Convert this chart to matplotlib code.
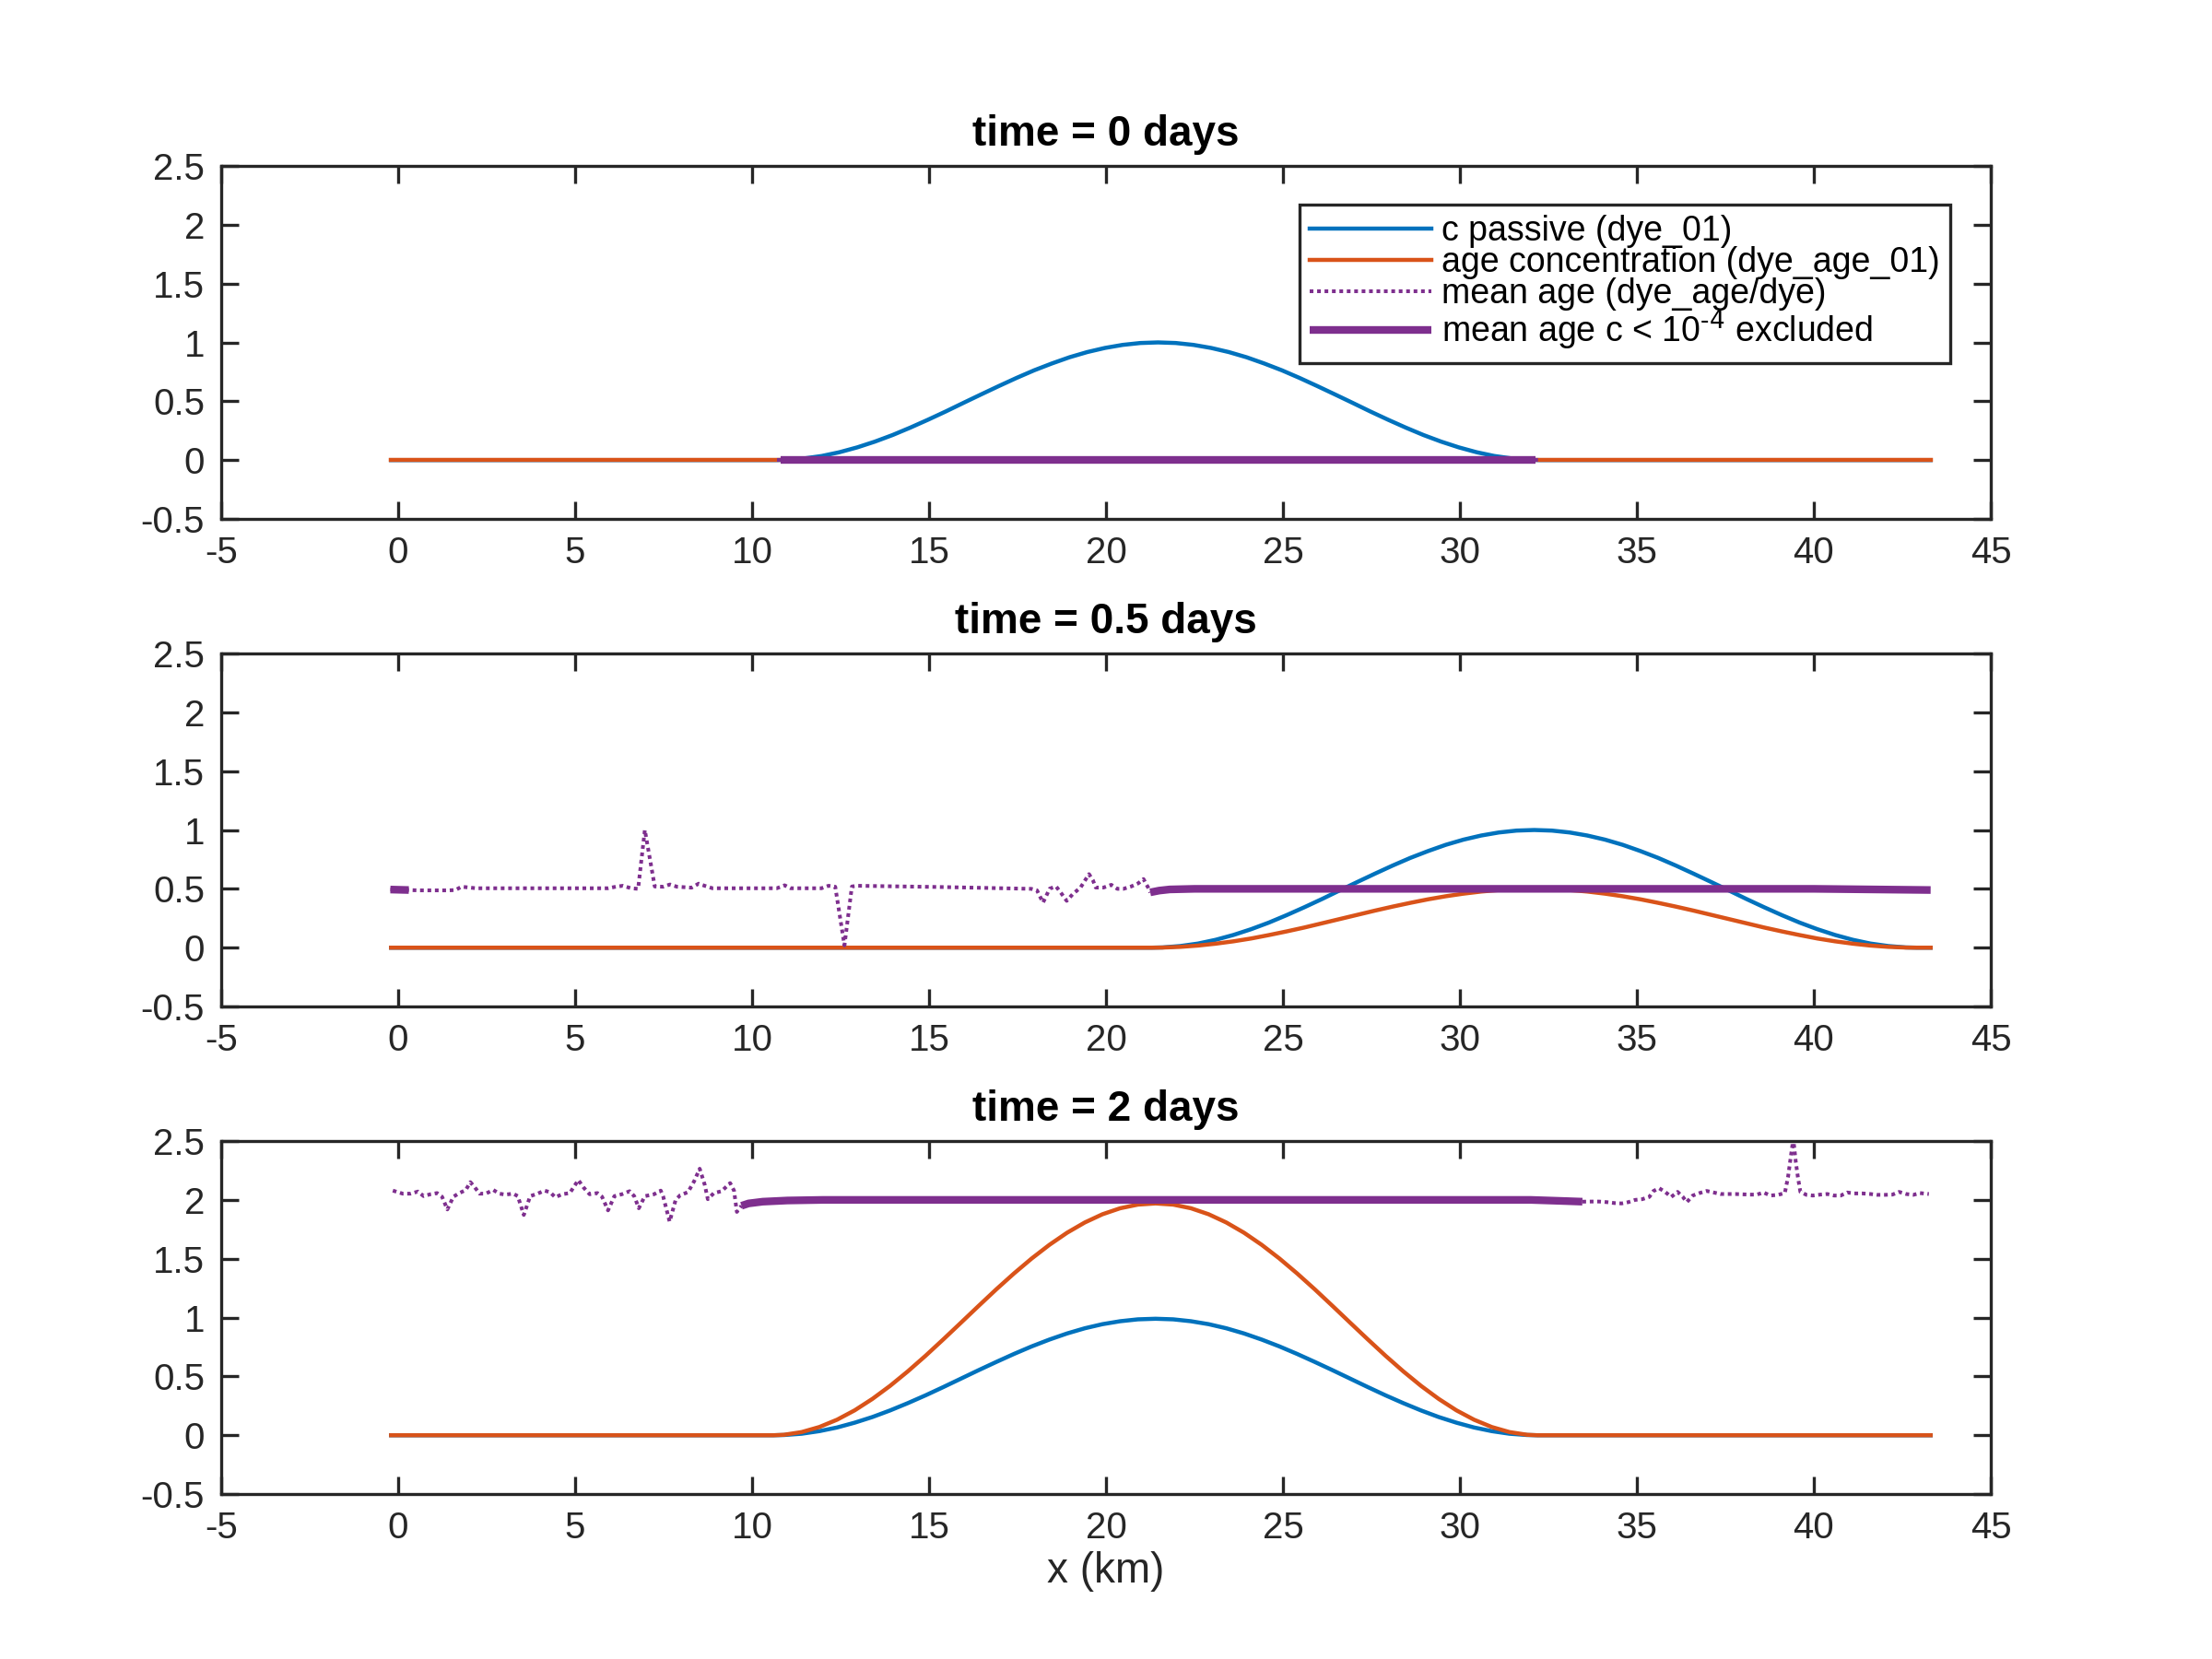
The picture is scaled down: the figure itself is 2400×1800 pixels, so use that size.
import matplotlib
matplotlib.use("Agg")
import matplotlib.pyplot as plt
import numpy as np

plt.rcParams['font.family'] = ['Liberation Sans', 'DejaVu Sans']
plt.rcParams['mathtext.default'] = 'regular'

# colours (MATLAB default order)
BLUE = '#0072BD'
ORANGE = '#D95319'
PURPLE = '#7E2F8E'
AXC = '#262626'

titles = ['time = 0 days', 'time = 0.5 days', 'time = 2 days']
labels = ['c passive (dye_01)', 'age concentration (dye_age_01)',
          'mean age (dye_age/dye)', 'mean age c < 10$^{\\text{-4}}$ excluded']
xticks = [-5, 0, 5, 10, 15, 20, 25, 30, 35, 40, 45]
xticklabels = ['-5', '0', '5', '10', '15', '20', '25', '30', '35', '40', '45']
yticks = [-0.5, 0, 0.5, 1, 1.5, 2, 2.5]
yticklabels = ['-0.5', '0', '0.5', '1', '1.5', '2', '2.5']

x_start, x_end = -0.2, 43.3

# distance from bump centre (km) and bump values
bump_offset = [0.0, 0.5, 1.0, 1.5, 2.0, 2.5, 3.0, 3.5, 4.0, 4.5, 5.0, 5.5,
               6.0, 6.5, 7.0, 7.5, 8.0, 8.5, 9.0, 9.5, 10.0, 10.5, 10.8]
c_t0 = [1.0, 0.995, 0.979, 0.953, 0.918, 0.874, 0.821, 0.763, 0.698, 0.629, 0.558, 0.486,
        0.413, 0.343, 0.276, 0.213, 0.157, 0.108, 0.067, 0.035, 0.014, 0.002, 0.0]
c_t05 = [1.0, 0.995, 0.979, 0.953, 0.918, 0.874, 0.821, 0.763, 0.698, 0.629, 0.558, 0.486,
         0.413, 0.343, 0.276, 0.213, 0.157, 0.108, 0.067, 0.035, 0.014, 0.002, 0.0]
age_t05 = [0.5, 0.497, 0.490, 0.477, 0.459, 0.437, 0.411, 0.381, 0.349, 0.315, 0.279, 0.243,
           0.207, 0.171, 0.138, 0.107, 0.078, 0.054, 0.034, 0.018, 0.007, 0.001, 0.0]
c_t2 = [0.99, 0.985, 0.969, 0.944, 0.909, 0.865, 0.813, 0.755, 0.691, 0.623, 0.553, 0.481,
        0.409, 0.339, 0.273, 0.211, 0.155, 0.107, 0.066, 0.035, 0.013, 0.002, 0.0]
age_t2 = [1.97, 1.96, 1.929, 1.878, 1.808, 1.721, 1.618, 1.502, 1.375, 1.24, 1.099, 0.956,
          0.814, 0.675, 0.543, 0.42, 0.309, 0.212, 0.132, 0.07, 0.027, 0.004, 0.0]
centres = [21.47, 32.1, 21.4]

# mean age (dotted), noisy parts
dot0_x = [10.7, 32.3]
dot0_y = [0.0, 0.0]
dot05_x = [-0.22, 0.30, 0.56, 1.43, 1.62, 1.79, 2.2, 5.93, 6.15, 6.35, 6.58, 6.78, 6.97,
           7.25, 7.49, 7.68, 7.88, 8.29, 8.49, 8.66, 8.88, 10.70, 10.92, 11.09, 11.96,
           12.16, 12.35, 12.61, 12.82, 12.97, 15.42, 17.89, 18.05, 18.22, 18.41, 18.59,
           18.72, 18.89, 19.06, 19.28, 19.41, 19.52, 19.63, 19.71, 19.93, 20.15, 20.32,
           20.49, 20.71, 20.91, 21.06, 21.19, 21.25]
dot05_y = [0.494, 0.49, 0.487, 0.487, 0.49, 0.518, 0.505, 0.505, 0.518, 0.526, 0.505, 0.50,
           1.0, 0.52, 0.518, 0.537, 0.518, 0.51, 0.544, 0.526, 0.505, 0.505, 0.53, 0.505,
           0.505, 0.526, 0.518, 0.02, 0.52, 0.526, 0.515, 0.50, 0.487, 0.383, 0.502, 0.52,
           0.469, 0.398, 0.455, 0.511, 0.573, 0.625, 0.573, 0.511, 0.511, 0.534, 0.50,
           0.50, 0.52, 0.547, 0.583, 0.511, 0.469]
dot2_x = [-0.15, 0.13, 0.35, 0.56, 0.72, 0.91, 1.10, 1.24, 1.39, 1.56, 1.73, 1.91, 2.04,
          2.17, 2.30, 2.47, 2.69, 2.86, 3.03, 3.25, 3.38, 3.55, 3.73, 3.94, 4.13, 4.29,
          4.44, 4.63, 4.85, 4.98, 5.09, 5.24, 5.41, 5.63, 5.76, 5.93, 6.11, 6.32, 6.54,
          6.67, 6.80, 6.97, 7.23, 7.42, 7.49, 7.67, 7.84, 7.97, 8.19, 8.36, 8.52, 8.66,
          8.75, 8.92, 9.14, 9.38, 9.49, 9.57, 9.70,
          np.nan,
          33.46, 33.72, 33.93, 34.15, 34.37, 34.57, 34.76, 34.95, 35.15, 35.35, 35.47,
          35.63, 35.80, 35.97, 36.15, 36.30, 36.41, 36.58, 36.77, 36.97, 37.17, 37.36,
          37.78, 38.19, 38.39, 38.58, 38.77, 38.99, 39.18, 39.27, 39.34, 39.42, 39.49,
          39.55, 39.62, 39.79, 39.97, 40.18, 40.38, 40.57, 40.76, 40.94, 41.14, 41.37,
          41.60, 41.79, 42.01, 42.22, 42.41, 42.61, 42.81, 43.0, 43.25]
dot2_y = [2.079, 2.053, 2.053, 2.071, 2.032, 2.048, 2.058, 2.027, 1.919, 2.027, 2.058,
          2.084, 2.151, 2.105, 2.053, 2.053, 2.084, 2.053, 2.045, 2.053, 2.032, 1.872,
          2.032, 2.053, 2.079, 2.066, 2.022, 2.048, 2.058, 2.118, 2.169, 2.105, 2.048,
          2.058, 2.027, 1.911, 2.032, 2.048, 2.074, 2.032, 1.929, 2.032, 2.048, 2.079,
          2.027, 1.815, 2.0, 2.040, 2.066, 2.157, 2.265, 2.131, 2.006, 2.058, 2.074,
          2.143, 2.079, 1.898, 1.95,
          np.nan,
          1.985, 1.986, 1.986, 1.981, 1.973, 1.970, 1.981, 2.0, 2.006, 2.025, 2.076,
          2.099, 2.068, 2.025, 2.068, 2.025, 1.981, 2.037, 2.058, 2.076, 2.063, 2.050,
          2.050, 2.045, 2.045, 2.063, 2.037, 2.043, 2.058, 2.192, 2.347, 2.52, 2.322,
          2.192, 2.068, 2.043, 2.037, 2.045, 2.050, 2.037, 2.037, 2.063, 2.055, 2.055,
          2.050, 2.043, 2.043, 2.045, 2.068, 2.050, 2.043, 2.058, 2.050]

# mean age with c < 1e-4 excluded (thick)
thick0_x = [10.8, 32.14]
thick0_y = [0.0, 0.0]
thick05_x = [-0.22, 0.30, np.nan, 21.25, 21.5, 21.8, 22.5, 40.0, 43.3]
thick05_y = [0.494, 0.49, np.nan, 0.47, 0.485, 0.495, 0.5, 0.5, 0.49]
thick2_x = [9.70, 9.9, 10.3, 11.0, 12.0, 32.0, 33.0, 33.46]
thick2_y = [1.95, 1.97, 1.985, 1.995, 2.0, 2.0, 1.99, 1.985]


def full_line(centre, half):
    # mirror the half profile around the centre and pad with zeros to the domain ends
    xs = [centre - d for d in bump_offset[::-1]] + [centre + d for d in bump_offset[1:]]
    ys = half[::-1] + half[1:]
    return [x_start] + xs + [x_end], [0.0] + ys + [0.0]


zeros_x = [x_start, x_end]
zeros_y = [0.0, 0.0]

panels = [
    (full_line(centres[0], c_t0), (zeros_x, zeros_y), (dot0_x, dot0_y), (thick0_x, thick0_y)),
    (full_line(centres[1], c_t05), full_line(centres[1], age_t05), (dot05_x, dot05_y), (thick05_x, thick05_y)),
    (full_line(centres[2], c_t2), full_line(centres[2], age_t2), (dot2_x, dot2_y), (thick2_x, thick2_y)),
]

fig = plt.figure(figsize=(12, 9), dpi=200)
bottoms = [0.6872, 0.3933, 0.0994]

for k, (blue, orange, dot, thick) in enumerate(panels):
    ax = fig.add_axes([0.1, bottoms[k], 0.8, 0.2128])
    l1, = ax.plot(blue[0], blue[1], color=BLUE, lw=1.6, label=labels[0])
    l2, = ax.plot(orange[0], orange[1], color=ORANGE, lw=1.6, label=labels[1])
    l3, = ax.plot(dot[0], dot[1], color=PURPLE, lw=1.45, ls=(0, (1, 1)), label=labels[2])
    l4, = ax.plot(thick[0], thick[1], color=PURPLE, lw=3.0, solid_capstyle='butt', label=labels[3])

    ax.set_xlim(-5, 45)
    ax.set_ylim(-0.5, 2.5)
    ax.set_xticks(xticks)
    ax.set_xticklabels(xticklabels)
    ax.set_yticks(yticks)
    ax.set_yticklabels(yticklabels)
    ax.tick_params(direction='in', length=6.9, width=1.2, top=True, right=True,
                   colors=AXC, labelsize=14.5)
    ax.tick_params(axis='y', pad=6.5)
    ax.tick_params(axis='x', pad=6.5)
    for sp in ax.spines.values():
        sp.set_linewidth(1.2)
        sp.set_color(AXC)
    ax.set_title(titles[k], fontsize=16.5, fontweight='bold', pad=8)

    if k == 0:
        leg = ax.legend(handles=[l1, l2, l3, l4], loc='upper right',
                        bbox_to_anchor=(0.977, 0.89), fontsize=13.5, frameon=True,
                        fancybox=False, framealpha=1, edgecolor=AXC,
                        handlelength=3.5, handletextpad=0.3, labelspacing=-0.06,
                        borderpad=0.3, borderaxespad=0)
        leg.get_frame().set_linewidth(1.2)
    if k == 2:
        ax.set_xlabel('x (km)', fontsize=16.5, color=AXC, labelpad=2)

fig.savefig('out.png', dpi=200)
